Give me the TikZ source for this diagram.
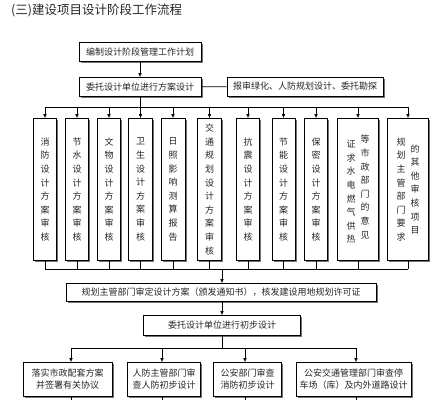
\documentclass[tikz,border=0pt]{standalone}
\usepackage{fontspec}
\setmainfont{Noto Sans CJK SC}
\usetikzlibrary{shadows,arrows.meta}
\newcommand\vcol[1]{\parbox[c]{10pt}{\centering #1}}
\begin{document}
\begin{tikzpicture}[x=1pt,y=-1pt,
  box/.style={draw=black, line width=0.7pt, fill=white, inner sep=0pt, align=center,
    font=\fontsize{9}{12}\selectfont, text=black!85,
    drop shadow={shadow xshift=1.6pt, shadow yshift=-1.6pt, fill=black!55, opacity=1}},
  vbox/.style={box, font=\fontsize{9}{13.6}\selectfont, minimum height=142pt},
  link/.style={line width=0.7pt},
  arr/.style={link, -{Latex[length=4pt,width=3.6pt]}}
]
\useasboundingbox (0,0) rectangle (438,400);

\node[anchor=west, inner sep=0pt, font=\fontsize{12.5}{14}\selectfont, text=black!85] (title) at (11,10) {(三)建设项目设计阶段工作流程};

\node[box, minimum width=122pt, minimum height=19pt] (b1) at (140,52) {编制设计阶段管理工作计划};
\node[box, minimum width=122pt, minimum height=19pt] (b2) at (140,87) {委托设计单位进行方案设计};
\node[box, minimum width=156pt, minimum height=19pt] (b3) at (305,86.5) {报审绿化、人防规划设计、委托勘探};

\node[vbox, minimum width=23pt] (v1) at (45,189.5) {\vcol{消\\防\\设\\计\\方\\案\\审\\核}};
\node[vbox, minimum width=23pt] (v2) at (77,189.5) {\vcol{节\\水\\设\\计\\方\\案\\审\\核}};
\node[vbox, minimum width=23pt] (v3) at (109,189.5) {\vcol{文\\物\\设\\计\\方\\案\\审\\核}};
\node[vbox, minimum width=24pt] (v4) at (140.5,189.5) {\vcol{卫\\生\\设\\计\\方\\案\\审\\核}};
\node[vbox, minimum width=24pt] (v5) at (173,189.5) {\vcol{日\\照\\影\\响\\测\\算\\报\\告}};
\node[vbox, minimum width=24pt] (v6) at (209.5,189.5) {\vcol{交\\通\\规\\划\\设\\计\\方\\案\\审\\核}};
\node[vbox, minimum width=23pt] (v7) at (248,189.5) {\vcol{抗\\震\\设\\计\\方\\案\\审\\核}};
\node[vbox, minimum width=23pt] (v8) at (283.5,189.5) {\vcol{节\\能\\设\\计\\方\\案\\审\\核}};
\node[vbox, minimum width=23pt] (v9) at (316,189.5) {\vcol{保\\密\\设\\计\\方\\案\\审\\核}};
\node[vbox, minimum width=41pt] (v10) at (358,189.5) {\raisebox{-5pt}{\vcol{证\\求\\水\\电\\燃\\气\\供\\热}}\hspace{4pt}\vcol{等\\市\\政\\部\\门\\的\\意\\见}};
\node[vbox, minimum width=41pt] (v11) at (408,189.5) {\vcol{规\\划\\主\\管\\部\\门\\要\\求}\hspace{4pt}\vcol{的\\其\\他\\审\\核\\项\\目}};

\node[box, minimum width=310pt, minimum height=18pt] (b12) at (221,292.5) {规划主管部门审定设计方案（颁发通知书），核发建设用地规划许可证};
\node[box, minimum width=157pt, minimum height=20pt] (b13) at (222,325.5) {委托设计单位进行初步设计};

\node[box, minimum width=89pt, minimum height=34pt] (c1) at (67.5,379.5) {落实市政配套方案\\并签署有关协议};
\node[box, minimum width=73pt, minimum height=34pt] (c2) at (164,379.5) {人防主管部门审\\查人防初步设计};
\node[box, minimum width=68pt, minimum height=34pt] (c3) at (247.5,379.5) {公安部门审查\\消防初步设计};
\node[box, minimum width=115pt, minimum height=34pt] (c4) at (353.5,379.5) {公安交通管理部门审查停\\车场（库）及内外道路设计};

% connectors
\draw[arr] (b1) -- (b2);
\draw[link] (b2) -- (b3);
\coordinate (tl) at (45,107);
\coordinate (tr) at (408,107);
\draw[link] (b2.south) -- (b2.south |- tl);
\draw[link] (tl) -- (tr);
\foreach \v in {v1,v2,v3,v4,v5,v6,v7,v8,v9,v10,v11}{
  \draw[arr] (\v.north |- tl) -- (\v.north);
}
\coordinate (bl) at (45,269);
\coordinate (br) at (408,269);
\coordinate (bc) at (222,269);
\foreach \v in {v1,v2,v3,v4,v5,v6,v7,v8,v9,v10,v11}{
  \draw[link] (\v.south) -- (\v.south |- bl);
}
\draw[link] (bl) -- (br);
\draw[arr] (bc) -- (bc |- b12.north);
\draw[arr] (b12.south -| bc) -- (b13.north);

\coordinate (ml) at (71,348);
\coordinate (mr) at (356,348);
\draw[link] (b13.south) -- (b13.south |- ml);
\draw[link] (ml) -- (mr);
\coordinate (x1) at (71,348);
\coordinate (x2) at (162,348);
\coordinate (x3) at (245,348);
\coordinate (x4) at (356,348);
\draw[arr] (x1) -- (x1 |- c1.north);
\draw[arr] (x2) -- (x2 |- c2.north);
\draw[arr] (x3) -- (x3 |- c3.north);
\draw[arr] (x4) -- (x4 |- c4.north);
\coordinate (e1) at (71,400);
\coordinate (e2) at (162,400);
\coordinate (e3) at (245,400);
\coordinate (e4) at (356,400);
\draw[link] (e1 |- c1.south) -- (e1);
\draw[link] (e2 |- c2.south) -- (e2);
\draw[link] (e3 |- c3.south) -- (e3);
\draw[link] (e4 |- c4.south) -- (e4);
\end{tikzpicture}
\end{document}
